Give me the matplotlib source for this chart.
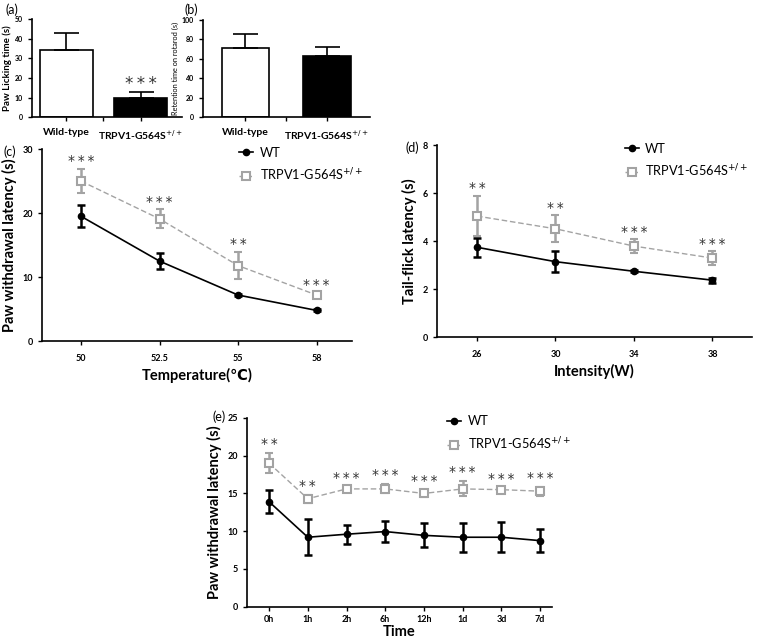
import matplotlib
matplotlib.use("Agg")
import matplotlib.pyplot as plt
from matplotlib.lines import Line2D
import numpy as np

plt.rcParams['font.family'] = ['Lato', 'DejaVu Sans']

# ---- data ----
bar_groups = ["Wild-type", "TRPV1-G564S$^{+/+}$"]
lick_mean = [34.5, 10.0]
lick_sem = [8.2, 3.0]
rotarod_mean = [71, 63]
rotarod_sem = [14, 9.5]

temp_labels = ["50", "52.5", "55", "58"]
temp_wt = [19.5, 12.5, 7.2, 4.8]
temp_wt_err = [1.7, 1.2, 0.2, 0.15]
temp_mut = [25.0, 19.1, 11.8, 7.2]
temp_mut_err = [1.9, 1.5, 2.1, 0.3]
temp_stars = ["***", "***", "**", "***"]

int_labels = ["26", "30", "34", "38"]
int_wt = [3.75, 3.15, 2.75, 2.38]
int_wt_err = [0.4, 0.45, 0.05, 0.1]
int_mut = [5.05, 4.52, 3.8, 3.3]
int_mut_err = [0.85, 0.57, 0.3, 0.3]
int_stars = ["**", "**", "***", "***"]

time_labels = ["0h", "1h", "2h", "6h", "12h", "1d", "3d", "7d"]
time_wt = [13.9, 9.2, 9.6, 9.95, 9.45, 9.2, 9.2, 8.75]
time_wt_err = [1.5, 2.4, 1.25, 1.35, 1.6, 1.9, 2.0, 1.5]
time_mut = [19.0, 14.3, 15.6, 15.6, 15.0, 15.6, 15.5, 15.3]
time_mut_err = [1.35, 0.55, 0.3, 0.6, 0.5, 1.0, 0.15, 0.6]
time_stars = ["**", "**", "***", "***", "***", "***", "***", "***"]

GRAY = "#a3a3a3"
STAR = "#333333"
STAR_FONT = ["DejaVu Sans"]

fig = plt.figure(figsize=(7.6, 6.4), dpi=100)


def spaced(s):
    return "\u2009".join(s)


def style(ax, fs=6):
    for s in ["top", "right"]:
        ax.spines[s].set_visible(False)
    for s in ["left", "bottom"]:
        ax.spines[s].set_linewidth(1.2)
    ax.tick_params(labelsize=fs, width=1.0, length=3)
    for t in ax.get_yticklabels() + ax.get_xticklabels():
        t.set_fontweight("bold")


def bar_panel(rect, means, sems, ylim, yticks, ylabel, ylab_fs, ylab_bold, width):
    ax = fig.add_axes(rect)
    x = np.arange(len(means))
    ax.bar(x, means, width=width, color=["white", "black"], edgecolor="black", linewidth=1.2)
    ax.errorbar(x, means, yerr=[np.zeros(len(sems)), sems], fmt="none",
                ecolor="black", elinewidth=1.2, capsize=9, capthick=1.2)
    ax.set_ylim(*ylim)
    ax.set_yticks(yticks)
    ax.set_xticks(x)
    ax.set_xticklabels(bar_groups)
    ax.set_xticks([0.5], minor=True)
    ax.tick_params(axis="x", which="major", length=0, pad=5)
    ax.tick_params(axis="x", which="minor", length=3, width=1.0)
    ax.set_ylabel(ylabel, fontsize=ylab_fs, fontweight="bold" if ylab_bold else "normal", labelpad=2)
    style(ax, 5)
    for t in ax.get_xticklabels():
        t.set_fontsize(7.5)
    return ax


ax_a = bar_panel([0.042, 0.817, 0.197, 0.153], lick_mean, lick_sem, (0, 50),
                 range(0, 51, 10), "Paw Licking time (s)", 7, True, 0.71)
ax_a.set_xlim(-0.46, 1.55)
ax_a.text(1, lick_mean[1] + lick_sem[1] + 4, spaced("***"), ha="center", va="center",
          fontsize=12, color=STAR, family=STAR_FONT)

ax_b = bar_panel([0.267, 0.817, 0.22, 0.152], rotarod_mean, rotarod_sem, (0, 100),
                 range(0, 101, 20), "Retention time on rotarod (s)", 5.3, False, 0.58)
ax_b.set_xlim(-0.52, 1.53)


def line_panel(rect, labels, wt, wt_err, mut, mut_err, stars, star_off, ylim, yticks,
               xlim, ylabel, xlabel, leg_anchor, pad=6, lpad=4):
    ax = fig.add_axes(rect)
    x = np.arange(len(labels))
    ax.errorbar(x, mut, yerr=mut_err, color=GRAY, ls="--", lw=1.0, marker="s",
                ms=5.5, mfc="white", mec=GRAY, mew=1.5, ecolor=GRAY,
                elinewidth=1.8, capsize=3, capthick=1.8, dashes=(4, 2), zorder=2)
    ax.errorbar(x, wt, yerr=wt_err, color="black", ls="-", lw=1.2, marker="o",
                ms=4.5, ecolor="black", elinewidth=1.8, capsize=3, capthick=1.8,
                zorder=3)
    for xi, m, e, s in zip(x, mut, mut_err, stars):
        ax.text(xi, m + e + star_off, spaced(s), ha="center", va="center",
                fontsize=10, color=STAR, family=STAR_FONT)
    ax.set_ylim(*ylim)
    ax.set_yticks(yticks)
    ax.set_xlim(*xlim)
    ax.set_xticks(x)
    ax.set_xticklabels(labels)
    ax.tick_params(axis="x", length=0, pad=pad)
    ax.set_ylabel(ylabel, fontsize=10.5, fontweight="bold")
    ax.set_xlabel(xlabel, fontsize=10.5, fontweight="bold", labelpad=lpad)
    style(ax, 6.5)
    handles = [
        Line2D([], [], color="black", ls="-", lw=1.2, marker="o", ms=4.5),
        Line2D([], [], color=GRAY, ls="--", lw=1.0, marker="s", ms=5.5,
               mfc="white", mec=GRAY, mew=1.5, dashes=(2, 1.5)),
    ]
    ax.legend(handles, ["WT", "TRPV1-G564S$^{+/+}$"], loc="upper left",
              bbox_to_anchor=leg_anchor, frameon=False, fontsize=9.2,
              handlelength=1.1, handletextpad=0.5, labelspacing=0.6, borderaxespad=0)
    return ax


line_panel([0.055, 0.467, 0.408, 0.3], temp_labels, temp_wt, temp_wt_err, temp_mut,
           temp_mut_err, temp_stars, 1.2, (0, 30), range(0, 31, 10), (-0.5, 3.45),
           "Paw withdrawal latency (s)", "Temperature(\u2103)", (0.62, 1.04))

line_panel([0.575, 0.473, 0.414, 0.3], int_labels, int_wt, int_wt_err, int_mut,
           int_mut_err, int_stars, 0.3, (0, 8), range(0, 9, 2), (-0.51, 3.5),
           "Tail-flick latency (s)", "Intensity(W)", (0.58, 1.04))

line_panel([0.325, 0.052, 0.401, 0.295], time_labels, time_wt, time_wt_err, time_mut,
           time_mut_err, time_stars, 1.2, (0, 25), range(0, 26, 5), (-0.57, 7.3),
           "Paw withdrawal latency (s)", "Time", (0.64, 1.04), pad=3, lpad=1)

fig.text(0.007, 0.994, "(a)", fontsize=9, va="top")
fig.text(0.243, 0.994, "(b)", fontsize=9, va="top")
fig.text(0.004, 0.773, "(c)", fontsize=9, va="top")
fig.text(0.533, 0.779, "(d)", fontsize=9, va="top")
fig.text(0.280, 0.358, "(e)", fontsize=9, va="top")

fig.savefig("out.png", dpi=100)
